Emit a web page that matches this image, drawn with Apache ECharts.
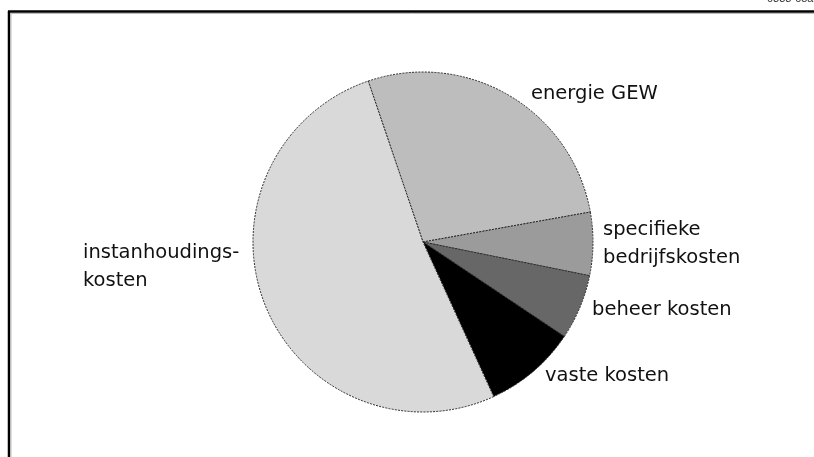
<!DOCTYPE html>
<html>
<head>
<meta charset="utf-8">
<script src="https://cdn.jsdelivr.net/npm/echarts@6/dist/echarts.min.js"></script>
<style>
html,body{margin:0;padding:0;background:#fff;}
#chart{width:814px;height:457px;}
</style>
</head>
<body>
<div id="chart"></div>
<script>
// Data (percent shares)
const categories = ['energie GEW', 'specifieke\nbedrijfskosten', 'beheer kosten', 'vaste kosten', 'instanhoudings-\nkosten'];
const values = [27.4, 6.0, 6.2, 8.8, 51.6];
const sliceColors = ['#bdbdbd', '#9b9b9b', '#676767', '#000000', '#d9d9d9'];
const labelPositions = [
  {x: 531, y: 94},
  {x: 603, y: 244},
  {x: 592, y: 310},
  {x: 545, y: 376},
  {x: 83, y: 267}
];

const chart = echarts.init(document.getElementById('chart'), null, {renderer: 'canvas'});
chart.setOption({
  backgroundColor: '#ffffff',
  animation: false,
  graphic: [
    {type: 'line', shape: {x1: 8, y1: 11.5, x2: 814, y2: 11.5}, style: {stroke: '#000', lineWidth: 2.5}, silent: true},
    {type: 'line', shape: {x1: 9, y1: 11, x2: 9, y2: 457}, style: {stroke: '#000', lineWidth: 2.5}, silent: true},
    {type: 'line', shape: {x1: 10.5, y1: 13.5, x2: 814, y2: 13.5}, style: {stroke: '#bbb', lineWidth: 1}, silent: true},
    {type: 'line', shape: {x1: 11, y1: 13, x2: 11, y2: 457}, style: {stroke: '#bbb', lineWidth: 1}, silent: true},
    {type: 'text', left: 767, top: -7, style: {text: '0838-05a', fontSize: 11, fontFamily: 'Liberation Sans', fill: '#333'}, silent: true}
  ],
  series: [{
    type: 'pie',
    center: [423, 242],
    radius: 170,
    startAngle: 108.8,
    clockwise: true,
    silent: true,
    data: categories.map((c, i) => ({name: c, value: values[i], itemStyle: {color: sliceColors[i]}})),
    itemStyle: {borderColor: '#2a2a2a', borderWidth: 1, borderType: [2, 1.2]},
    label: {
      show: true,
      position: 'outside',
      formatter: '{b}',
      color: '#111',
      fontFamily: 'DejaVu Sans',
      fontSize: 19.5,
      lineHeight: 28
    },
    labelLine: {show: false},
    labelLayout: function (params) {
      const p = labelPositions[params.dataIndex];
      return {x: p.x, y: p.y, align: 'left', verticalAlign: 'middle', moveOverlap: null};
    }
  }]
});
</script>
</body>
</html>
